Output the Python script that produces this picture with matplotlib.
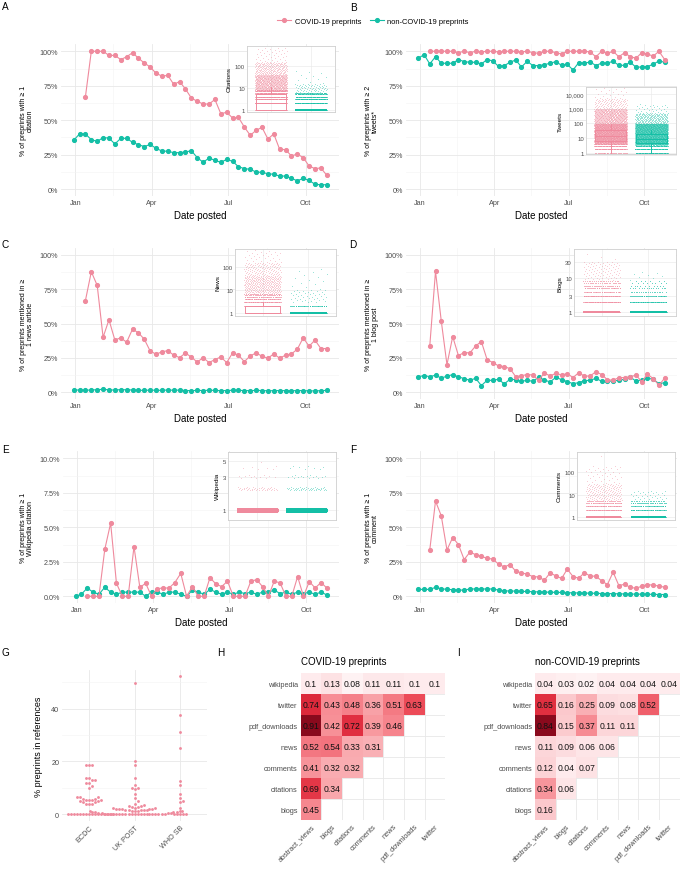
import matplotlib
matplotlib.use('Agg')
import matplotlib.pyplot as plt
import matplotlib.dates as mdates
from matplotlib.lines import Line2D
from matplotlib.patches import Rectangle
from matplotlib.colors import LinearSegmentedColormap, Normalize
from matplotlib.ticker import FixedLocator, FixedFormatter, NullFormatter
import numpy as np
import pandas as pd

plt.rcParams['font.family'] = ['Liberation Sans', 'DejaVu Sans']

# ---------------- data ----------------
weeks = pd.date_range('2019-12-30', periods=44, freq='7D')
covid_weeks = weeks[2:]

cov_A = [67,100,100,100,97,97,94,96,99,95,91.5,88.6,84,82,82.5,76,78,72.6,66,63.7,61.7,61.7,65,54.7,55.7,51.6,52,45,39,42.6,44.8,36.3,40,28.8,28.6,24,25.4,22.8,16.7,14.8,15.3,10]
non_A = [35.4,40,40,35.8,34.6,37.3,37,32.7,36.8,36.8,33.9,32.2,30.8,32.4,29.5,27.6,27.4,26.4,26.4,26.9,27.8,22.8,19.4,22.5,20.8,19.4,21.5,20.1,16.2,14.8,14.3,12.3,12.1,11.1,10.7,9.4,9.4,7.7,6,7.7,6.3,3.4,3.1,3.1]
cov_B = [100,100,100,100,100,99,100,99,100,99.5,100,100,99.5,100,100,100,99.5,100,99,98.5,100,100,99,98,100,100,100,100,99.5,96,100,98.5,100,96,99,96,95,99,98,96.5,100,94]
non_B = [94.9,97.6,90.8,96.1,91.3,91.3,91.3,94,92.5,92,92,90.8,94,93,89,89.6,92,93.7,88.6,92.7,89.6,89.6,90.3,91.3,92.5,89.8,90.6,86.4,91.8,91.3,92.3,89.6,91.5,91.5,92.7,89.8,89.8,92,88.4,88.6,88.9,90.6,93,92]
cov_C = [66.7,87.6,77.7,40,52.7,38,39.6,36.4,45.9,43.2,38.6,30,27.7,29.4,30.3,27,25.2,28.6,25.5,22,25.2,21.6,23.8,25.7,21.6,28.6,27,22.3,26.5,28.6,26.2,24.8,27.9,24.8,27,27.9,31.3,39.6,33.5,37.9,31.8,31.8]
non_C = [1.8,1.6,1.5,1.7,1.9,2.2,1.8,1.6,2.0,1.8,1.7,1.5,1.4,1.6,1.5,1.4,1.7,1.5,1.6,1.3,1.2,1.4,1.3,1.5,1.4,1.2,1.3,1.5,1.4,1.3,1.2,1.4,1.3,1.1,1.2,1.3,1.2,1.1,1.3,1.2,1.1,1.0,1.2,1.4]
cov_D = [33.7,87.9,52,20.1,40.5,26.7,28.9,28.6,33.7,36.9,23.8,21.6,19.2,18.7,17.2,11.4,12.1,12.9,12.6,8.7,14.1,11.9,13.8,12.6,13.6,10.7,14.3,11.7,11.9,15,12.9,9.2,8.7,10.7,10.7,11.4,12.4,7.8,13.1,10,5.1,10.4]
non_D = [11.4,12.1,11.4,12.4,10.4,11.7,12.9,11.2,10,8.7,10.2,4.9,8.7,8.7,9.5,6.1,9.5,9.2,8,8.7,8,10.9,9,7.5,10.9,9.2,7.8,6.3,7,8.5,8.7,10.2,8,8,8.3,8.7,9.5,11.2,8,9.2,10.2,9.5,6.3,7]
cov_E = [0,0,0,3.4,5.3,0.94,0,0,3.6,0.65,0.94,0,0.56,0.6,0.6,1.0,1.66,0,0.7,0,0,1.35,0.9,0.7,1.1,0,0,0,1.1,1.2,0.7,0,1.1,0.97,0,0,1.43,0,1.07,0.6,1.0,0.6]
non_E = [0,0.15,0.6,0.3,0.15,0.65,0.3,0.15,0.3,0.3,0.3,0.3,0,0.3,0.3,0.15,0.3,0.3,0.15,0,0.45,0.3,0.15,0.5,0.3,0.15,0.3,0.15,0.3,0.2,0.3,0.15,0.3,0.3,0.45,0.2,0.3,0.15,0.3,0.2,0.3,0.15,0.3,0.1]
cov_F = [33.6,69,58.4,33.6,42.6,37.5,26.6,32,30.2,29,27.5,27,23.3,21.3,23,18.2,17,16,14.3,14,11.6,17,14.8,12.9,19.7,14.3,13.1,17.2,14.6,14.6,11.2,8.5,17.5,7.8,8.7,6.5,5.8,7.3,8.5,8,7.5,6.5]
non_F = [5,5,5,6.5,5.5,5,4.8,4.5,4.5,5.3,5.3,5.3,5.3,5.3,4.5,4,3.8,3.8,3.5,3.5,3.3,3.2,3,3,2.8,2.8,2.6,2.5,2.4,2.4,2.2,2.2,2.0,2.0,1.9,1.8,1.7,1.6,1.6,1.5,1.5,1.4,1.3,1.3]

# inset summaries: boxplot stats (q1, med, q3, whislo, whishi) per group
box_stats = {
    'A': [(1, 2, 5, 1, 11), (1, 1, 1, 1, 1)],
    'B': [(7, 14, 39, 1, 86), (4.8, 9, 18, 1, 38)],
    'C': [(1, 1, 2, 1, 3), (1, 1, 1, 1, 1)],
    'D': [(1, 1, 1, 1, 1), (1, 1, 1, 1, 1)],
    'E': [(1, 1, 1, 1, 1), (1, 1, 1, 1, 1)],
    'F': [(1, 1, 1, 1, 1), (1, 1, 1, 1, 1)],
}
# discrete value levels {value: n points}
inset_levels = {
    'A': [{1: 80, 2: 80, 3: 80, 4: 80, 5: 70, 6: 60, 7: 60, 8: 50}, {1: 80, 2: 80, 3: 70, 4: 60, 5: 50, 6: 40}],
    'B': [{1: 30, 2: 60, 3: 60, 4: 60}, {1: 60, 2: 60, 3: 60}],
    'C': [{1: 80, 2: 70, 3: 60, 4: 50, 5: 40, 6: 30, 7: 30}, {1: 80, 2: 40}],
    'D': [{1: 80, 2: 70, 3: 60, 4: 40, 5: 35, 6: 30, 7: 25, 8: 20}, {1: 80, 2: 60, 3: 40, 4: 20, 5: 15, 6: 10, 7: 8, 8: 6}],
    'E': [{1: 80}, {1: 80}],
    'F': [{1: 80, 2: 60, 3: 50, 4: 40, 5: 30}, {1: 80, 2: 50, 3: 40, 4: 30, 5: 20}],
}
# value ranges (low, high, n points)
inset_ranges = {
    'A': [[(8.5, 40, 600), (40, 150, 200), (150, 700, 40)], [(6.5, 15, 60), (15, 60, 12)]],
    'B': [[(4.5, 100, 2000), (100, 1000, 600), (1000, 5000, 100), (5000, 30000, 20)], [(3.5, 100, 2000), (100, 500, 200), (500, 2000, 30)]],
    'C': [[(7.5, 40, 300), (40, 150, 120), (150, 500, 30)], [(3, 10, 40), (10, 80, 15)]],
    'D': [[(9, 30, 80), (30, 50, 4)], [(9, 15, 8)]],
    'E': [[(1.9, 2.12, 40), (2.85, 3.15, 12), (3.8, 4.2, 6), (4.9, 5.0, 1)], [(1.9, 2.12, 45), (2.85, 3.15, 15), (3.8, 4.3, 8)]],
    'F': [[(5.5, 30, 150), (30, 200, 40), (550, 650, 1)], [(6, 15, 30)]],
}

ref_groups = ['ECDC', 'UK POST', 'WHO SB']
ref_ecdc = [0]*16 + [18.6,18.6,18.6,13.8,13.8,12.8,12.8,11.7,11.7,10.6,10.0,6.4,6.4,6.4,5.9,5.9,5.3,5.3,5.3,5.3,5.0,5.0,4.5,4.5,4.0,4.0,4.0]
ref_ukpost = [0]*21 + [49.8,20.0,18.8,13.8,11.0,10.0,10.0,9.7,7.6,6.2,5.0,4.0,3.5,3.2,3.0,2.8,2.6,2.5,2.3,2.2,2.1,2.0,2.0,1.9,1.8,1.7,1.6,1.5,1.5,1.4,1.3,1.2,1.2,1.1,1.0,1.0,0.9,0.8,0.8,0.7,0.6,0.5,0.5,0.4]
ref_whosb = [0]*5 + [52.3,37.6,31.3,25.1,12.6,11.2,7.6,6.2,5.1,4.5,2.4]

hm_cols = ['abstract_views', 'blogs', 'citations', 'comments', 'news', 'pdf_downloads', 'twitter']
hm_rows = ['wikipedia', 'twitter', 'pdf_downloads', 'news', 'comments', 'citations', 'blogs']
hm_covid = [[0.1, 0.13, 0.08, 0.11, 0.11, 0.1, 0.1],
            [0.74, 0.43, 0.48, 0.36, 0.51, 0.63],
            [0.91, 0.42, 0.72, 0.39, 0.46],
            [0.52, 0.54, 0.33, 0.31],
            [0.41, 0.32, 0.32],
            [0.69, 0.34],
            [0.45]]
hm_noncovid = [[0.04, 0.03, 0.02, 0.04, 0.04, 0.04, 0.04],
               [0.65, 0.16, 0.25, 0.09, 0.08, 0.52],
               [0.84, 0.15, 0.37, 0.11, 0.11],
               [0.11, 0.09, 0.06, 0.06],
               [0.12, 0.04, 0.07],
               [0.34, 0.06],
               [0.16]]

PINK = '#EF8A9D'
TEAL = '#14BFA6'
TXT = '#4D4D4D'
GRID = '#E8E8E8'
GRIDm = '#F3F3F3'

W, H = 680, 870
fig = plt.figure(figsize=(W/100, H/100), dpi=100)


def add_ax(l, t, r, b, **kw):
    return fig.add_axes([l/W, 1-b/H, (r-l)/W, (b-t)/H], **kw)


def style_min(ax):
    for s in ax.spines.values():
        s.set_visible(False)
    ax.set_axisbelow(True)
    ax.grid(which='major', color=GRID, lw=0.6)
    ax.grid(which='minor', color=GRIDm, lw=0.4)
    ax.tick_params(which='both', length=0, labelsize=5.2, labelcolor=TXT, pad=2)


span = weeks[-1] - weeks[0]
xlo = mdates.date2num(weeks[0] - span*0.05)
xhi = mdates.date2num(weeks[-1] + span*0.05)
maj = mdates.date2num(pd.to_datetime(['2020-01-01', '2020-04-01', '2020-07-01', '2020-10-01']))
mnr = mdates.date2num(pd.to_datetime(['2020-02-15', '2020-05-16', '2020-08-16', '2020-11-15']))


def main_panel(rect, cov, non, ylabel, ymax, fmt):
    ax = add_ax(*rect)
    style_min(ax)
    ax.plot(mdates.date2num(weeks), non, '-o', color=TEAL, lw=0.8, ms=2.7, zorder=3)
    ax.plot(mdates.date2num(covid_weeks), cov, '-o', color=PINK, lw=0.8, ms=2.7, zorder=4)
    ax.set_xlim(xlo, xhi)
    ax.xaxis.set_major_locator(FixedLocator(maj))
    ax.xaxis.set_major_formatter(FixedFormatter(['Jan', 'Apr', 'Jul', 'Oct']))
    ax.xaxis.set_minor_locator(FixedLocator(mnr))
    ax.xaxis.set_minor_formatter(NullFormatter())
    yt = np.linspace(0, ymax, 5)
    ax.set_ylim(-0.05*ymax, 1.05*ymax)
    ax.yaxis.set_major_locator(FixedLocator(yt))
    ax.yaxis.set_major_formatter(FixedFormatter([fmt.format(v) for v in yt]))
    ax.yaxis.set_minor_locator(FixedLocator(yt[:-1] + ymax/8))
    ax.yaxis.set_minor_formatter(NullFormatter())
    ax.set_xlabel('Date posted', fontsize=7, labelpad=3)
    ax.set_ylabel(ylabel, fontsize=5, labelpad=4, linespacing=1.05)
    return ax


def quasi_x(n, center, start=0):
    i = np.arange(start, start + n)
    return center - 0.4 + 0.8*np.mod(i*0.6180339887 + 0.31, 1.0)


def inset(key, rect, ylabel, ylim, yticks, ytl, lwflat=1.2):
    l, t, r, b = rect
    ax = add_ax(l, t, r, b, zorder=6)
    ax.set_facecolor('white')
    ax.set_yscale('log')
    ax.set_xlim(0.4, 2.6)
    ax.set_ylim(*ylim)
    for s in ax.spines.values():
        s.set_color('#CFCFCF')
        s.set_linewidth(0.6)
    ax.set_axisbelow(True)
    ax.yaxis.set_major_locator(FixedLocator(yticks))
    ax.yaxis.set_major_formatter(FixedFormatter(ytl))
    ax.yaxis.set_minor_formatter(NullFormatter())
    ax.yaxis.set_minor_locator(FixedLocator([]))
    ax.set_xticks([1, 2])
    ax.set_xticklabels([])
    ax.grid(which='major', color='#EBEBEB', lw=0.5)
    ax.tick_params(length=0, labelsize=4.3, labelcolor=TXT, pad=1.5)
    ax.set_ylabel(ylabel, fontsize=4.6, labelpad=2)
    for g, col in enumerate([PINK, TEAL]):
        c = g + 1
        k = 0
        for v, n in inset_levels[key][g].items():
            ax.scatter(quasi_x(n, c, k), np.full(n, v), s=0.5, color=col, alpha=0.55, lw=0, zorder=2)
            k += n
        for lo, hi, n in inset_ranges[key][g]:
            ys = np.geomspace(lo, hi, n)
            ax.scatter(quasi_x(n, c, k), ys, s=0.45, color=col, alpha=0.35, lw=0, zorder=2)
            k += n
        q1, med, q3, wl, wh = box_stats[key][g]
        flat = (q1 == q3)
        lw = lwflat if flat else 0.7
        ax.bxp([{'med': med, 'q1': q1, 'q3': q3, 'whislo': wl, 'whishi': wh, 'fliers': []}],
               positions=[c], widths=0.75, showcaps=False, showfliers=False, patch_artist=False,
               boxprops=dict(color=col, lw=lw), medianprops=dict(color=col, lw=lw),
               whiskerprops=dict(color=col, lw=0.7), manage_ticks=False, zorder=3)
    return ax


axA = main_panel((61, 45.4, 339.4, 196.9), cov_A, non_A, '% of preprints with \u2265 1\ncitation', 100, '{:.0f}%')
axB = main_panel((406, 45.4, 677, 196.9), cov_B, non_B, '% of preprints with \u2265 2\ntweets*', 100, '{:.0f}%')
axC = main_panel((61, 248.8, 339.4, 400.2), cov_C, non_C, '% of preprints mentioned in \u2265\n1 news article', 100, '{:.0f}%')
axD = main_panel((406, 248.8, 677, 400.2), cov_D, non_D, '% of preprints mentioned in \u2265\n1 blog post', 100, '{:.0f}%')
axE = main_panel((63, 452.4, 339.4, 604.2), cov_E, non_E, '% of preprints with \u2265 1\nWikipedia citation', 10, '{:.1f}%')
axF = main_panel((406, 452.4, 677, 604.2), cov_F, non_F, '% of preprints with \u2265 1\ncomment', 100, '{:.0f}%')

inset('A', (247, 47, 335, 113), 'Citations', (0.78, 840), [1, 10, 100], ['1', '10', '100'])
inset('B', (586, 88, 676, 155), 'Tweets', (0.85, 30000), [1, 10, 100, 1000, 10000], ['1', '10', '100', '1,000', '10,000'])
inset('C', (235, 250, 336, 316.7), 'News', (0.8, 575), [1, 10, 100], ['1', '10', '100'])
inset('D', (574, 250, 676, 317.3), 'Blogs', (0.75, 71), [1, 3, 10, 30], ['1', '3', '10', '30'])
inset('E', (228, 452.7, 336, 521), 'Wikipedia', (0.72, 6.8), [1, 3, 5], ['1', '3', '5'], lwflat=3.5)
inset('F', (577, 452.7, 675, 521), 'Comments', (0.71, 860), [1, 10, 100], ['1', '10', '100'])

# legend
h1 = Line2D([], [], color=PINK, marker='o', ms=2.7, lw=0.8)
h2 = Line2D([], [], color=TEAL, marker='o', ms=2.7, lw=0.8)
fig.legend([h1, h2], ['COVID-19 preprints', 'non-COVID-19 preprints'], loc='center',
           bbox_to_anchor=(373/W, 1-22/H), ncol=2, frameon=False, fontsize=5.4,
           handlelength=1.8, handletextpad=0.5, columnspacing=1.2)

# panel G: beeswarm
axG = add_ax(62, 671, 207, 822)
style_min(axG)
gy_lo, gy_hi = -2.6, 54.6
axG.set_ylim(gy_lo, gy_hi)
axG.set_xlim(0.4, 3.6)
ypx = 151/(gy_hi-gy_lo)
xpx = 145/3.2


def swarm(vals, d=3.0):
    vals = sorted(vals)
    placed = []
    offs = []
    for v in vals:
        yp = v*ypx
        cands = [0]
        for m in range(1, 60):
            cands += [m*d, -m*d]
        for cx in cands:
            ok = True
            for (px, py) in placed:
                if abs(py-yp) < d and (px-cx)**2 + (py-yp)**2 < d*d*0.95:
                    ok = False
                    break
            if ok:
                break
        placed.append((cx, yp))
        offs.append(cx/xpx)
    return np.array(offs), np.array(vals)


for i, vals in enumerate([ref_ecdc, ref_ukpost, ref_whosb]):
    ox, vy = swarm(vals)
    axG.scatter(i+1+ox, vy, s=4.2, color=PINK, lw=0, zorder=3, clip_on=True)
axG.set_xticks([1, 2, 3])
axG.set_xticklabels(ref_groups, rotation=45, ha='right', va='top', rotation_mode='anchor')
axG.set_yticks([0, 20, 40])
axG.yaxis.set_minor_locator(FixedLocator([10, 30, 50]))
axG.set_ylabel('% preprints in references', fontsize=6.5, labelpad=6)

# heatmaps
cmap = LinearSegmentedColormap.from_list('hm', [
    (0.0, '#FEF2F3'), (0.05, '#FDE4E6'), (0.3, '#F9AAAF'), (0.45, '#F6868E'),
    (0.57, '#F2707B'), (0.67, '#EC4855'), (0.79, '#DE2A3C'), (1.0, '#8A0A1D')])


def heat(rect, vals, title):
    ax = add_ax(*rect)
    for s in ax.spines.values():
        s.set_visible(False)
    flat = [v for row in vals for v in row]
    norm = Normalize(min(flat), max(flat))
    n = len(hm_rows)
    for i, row in enumerate(vals):
        yy = n-1-i
        for j, v in enumerate(row):
            ax.add_patch(Rectangle((j-0.5, yy-0.5), 1, 1, facecolor=cmap(norm(v)), edgecolor='none', zorder=2))
            ax.text(j, yy, f'{v:g}', ha='center', va='center', fontsize=6.2, color='#111111', zorder=3)
    ax.set_xlim(-0.5, n-0.5)
    ax.set_ylim(-0.5, n-0.5)
    ax.set_xticks(range(len(hm_cols)))
    ax.set_xticklabels(hm_cols, rotation=45, ha='right', va='top', rotation_mode='anchor')
    ax.set_yticks(range(n))
    ax.set_yticklabels(hm_rows[::-1])
    ax.set_xticks(np.arange(-0.5, n), minor=True)
    ax.set_yticks(np.arange(-0.5, n), minor=True)
    ax.grid(which='minor', color=GRID, lw=0.6, zorder=0)
    ax.grid(which='major', visible=False)
    ax.set_axisbelow(True)
    ax.tick_params(which='both', length=0, labelsize=5.3, labelcolor=TXT, pad=2)
    ax.set_title(title, fontsize=7, loc='left', pad=6)
    return ax


heat((300.7, 673.5, 445.3, 820.8), hm_covid, 'COVID-19 preprints')
heat((535, 673.5, 679.5, 820.8), hm_noncovid, 'non-COVID-19 preprints')

for lab, x, y in [('A', 2, 2), ('B', 350, 3), ('C', 2, 240), ('D', 349, 240), ('E', 2, 445),
                  ('F', 350, 445), ('G', 2, 648), ('H', 217, 648), ('I', 457, 648)]:
    fig.text(x/W, 1-y/H, lab, fontsize=7.2, ha='left', va='top')

fig.savefig('out.png', dpi=100)
